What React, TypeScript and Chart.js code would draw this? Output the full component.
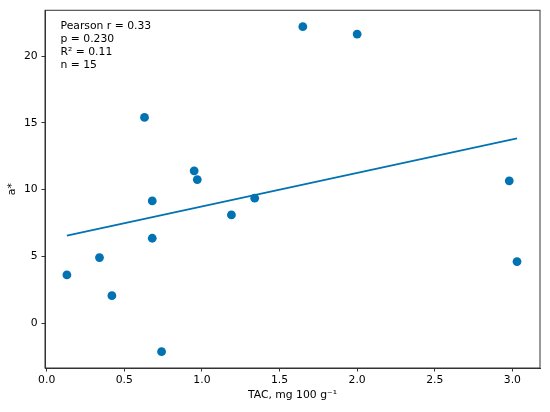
import React, { useEffect, useRef } from "react";
import { Chart, registerables } from "chart.js";

Chart.register(...registerables);

// TAC (mg 100 g^-1) and a* values
const tacValues = [0.13, 0.34, 0.42, 0.68, 0.74, 1.19, 0.63, 0.95, 0.97, 0.68, 1.34, 1.65, 2.0, 2.98, 3.03];
const aStarValues = [3.6, 4.9, 2.05, 6.35, -2.15, 8.1, 15.4, 11.4, 10.75, 9.15, 9.35, 22.2, 21.65, 10.65, 4.6];

// fitted regression line end points
const fitX = [0.13, 3.03];
const fitY = [6.55, 13.83];

const xTicks = [0, 0.5, 1.0, 1.5, 2.0, 2.5, 3.0];
const yTicks = [0, 5, 10, 15, 20];

const statsLines = ["Pearson r = 0.33", "p = 0.230", "R\u00B2 = 0.11", "n = 15"];

const BLUE = "#0173B2";
const FONT = "DejaVu Sans";
const FS = 10.8;
const TEXT = "#000";

export default function App() {
  const ref = useRef<HTMLCanvasElement | null>(null);

  useEffect(() => {
    document.body.style.margin = "0";
    const canvas = ref.current;
    if (!canvas) return;

    const boxPlugin = {
      id: "boxAndText",
      afterDraw(chart: any) {
        const { ctx, chartArea } = chart;
        ctx.save();
        ctx.strokeStyle = "#333";
        ctx.lineWidth = 1;
        ctx.strokeRect(chartArea.left, chartArea.top, chartArea.right - chartArea.left, chartArea.bottom - chartArea.top);
        ctx.fillStyle = TEXT;
        ctx.font = `${FS}px "${FONT}"`;
        ctx.textBaseline = "alphabetic";
        ctx.textAlign = "left";
        statsLines.forEach((t, i) => {
          ctx.fillText(t, chartArea.left + 15.5, chartArea.top + 18.7 + i * 12.9);
        });
        ctx.restore();
      },
    };

    const chart = new Chart(canvas, {
      type: "scatter",
      data: {
        datasets: [
          {
            type: "scatter",
            data: tacValues.map((x, i) => ({ x, y: aStarValues[i] })),
            backgroundColor: BLUE,
            borderWidth: 0,
            pointRadius: 4.4,
          },
          {
            type: "line",
            data: fitX.map((x, i) => ({ x, y: fitY[i] })),
            borderColor: BLUE,
            borderWidth: 1.7,
            pointRadius: 0,
            fill: false,
          },
        ],
      },
      options: {
        animation: false,
        responsive: true,
        maintainAspectRatio: false,
        layout: { padding: { top: 9, right: 10, left: 0, bottom: 0 } },
        plugins: { legend: { display: false }, tooltip: { enabled: false } },
        font: { family: FONT },
        scales: {
          x: {
            type: "linear",
            min: -0.011,
            max: 3.178,
            afterBuildTicks: (s: any) => {
              s.ticks = xTicks.map((v) => ({ value: v }));
            },
            afterFit: (s: any) => {
              s.height = 44;
            },
            ticks: {
              font: { family: FONT, size: FS },
              color: TEXT,
              padding: 2,
              maxRotation: 0,
              callback: (v: any) => Number(v).toFixed(1),
            },
            grid: { display: true, drawOnChartArea: false, drawTicks: true, tickLength: 3.5, color: "#333" },
            border: { display: true, color: "#333" },
            title: {
              display: true,
              text: "TAC, mg 100 g\u207B\u00B9",
              font: { family: FONT, size: FS },
              color: TEXT,
              padding: { top: 0, bottom: 10.6 },
            },
          },
          y: {
            type: "linear",
            min: -3.37,
            max: 23.43,
            afterBuildTicks: (s: any) => {
              s.ticks = yTicks.map((v) => ({ value: v }));
            },
            afterFit: (s: any) => {
              s.width = 45;
            },
            ticks: {
              font: { family: FONT, size: FS },
              color: TEXT,
              padding: 3.8,
              callback: (v: any) => String(v),
            },
            grid: { display: true, drawOnChartArea: false, drawTicks: true, tickLength: 3.5, color: "#333" },
            border: { display: true, color: "#333" },
            title: {
              display: true,
              text: "a*",
              font: { family: FONT, size: FS },
              color: TEXT,
              padding: { top: 5.6, bottom: 0 },
            },
          },
        },
      } as any,
      plugins: [boxPlugin],
    });

    return () => chart.destroy();
  }, []);

  return (
    <div style={{ width: 550, height: 412, position: "relative" }}>
      <canvas ref={ref} />
    </div>
  );
}
